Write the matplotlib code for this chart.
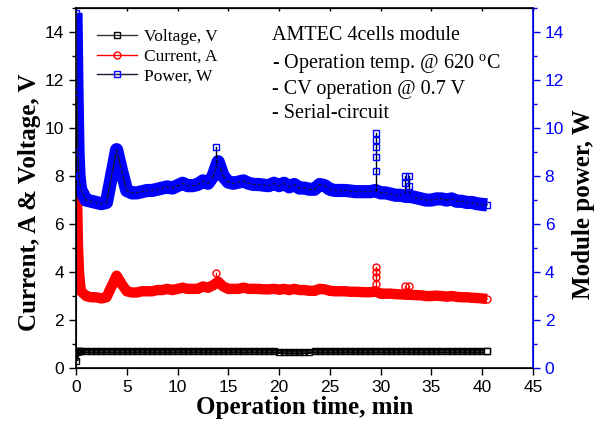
import matplotlib
matplotlib.use("Agg")
import matplotlib.pyplot as plt
from matplotlib.ticker import MultipleLocator

plt.rcParams['mathtext.fontset'] = 'custom'
plt.rcParams['mathtext.rm'] = 'Liberation Serif'

# ---------------- data ----------------
time_min = [0.0, 0.1, 0.2, 0.3, 0.4, 0.5, 1.0, 1.5, 2.0, 2.5, 3.0, 3.5, 4.0, 4.5,
            5.0, 5.5, 6.0, 6.5, 7.0, 7.5, 8.0, 8.5, 9.0, 9.5, 10.0, 10.5, 11.0,
            11.5, 12.0, 12.5, 13.0, 13.5, 14.0, 14.5, 15.0, 15.5, 16.0, 16.5,
            17.0, 17.5, 18.0, 18.5, 19.0, 19.5, 20.0, 20.5, 21.0, 21.5, 22.0,
            22.5, 23.0, 23.5, 24.0, 24.5, 25.0, 25.5, 26.0, 26.5, 27.0, 27.5,
            28.0, 28.5, 29.0, 29.5, 30.0, 30.5, 31.0, 31.5, 32.0, 32.5, 33.0,
            33.5, 34.0, 34.5, 35.0, 35.5, 36.0, 36.5, 37.0, 37.5, 38.0, 38.5,
            39.0, 39.5, 40.0, 40.5]

current_A = [14.0, 7.2, 5.0, 4.0, 3.5, 3.2, 3.0, 2.95, 2.95, 2.9, 2.95, 3.4, 3.85, 3.5,
             3.2, 3.15, 3.15, 3.2, 3.2, 3.2, 3.25, 3.25, 3.3, 3.25, 3.3, 3.35, 3.3,
             3.3, 3.3, 3.4, 3.35, 3.45, 3.6, 3.4, 3.3, 3.3, 3.3, 3.35,
             3.3, 3.3, 3.3, 3.28, 3.28, 3.3, 3.27, 3.3, 3.25, 3.3, 3.25,
             3.25, 3.22, 3.22, 3.3, 3.28, 3.22, 3.2, 3.2, 3.2, 3.18, 3.18,
             3.17, 3.16, 3.16, 3.2, 3.1, 3.1, 3.1, 3.08, 3.07, 3.06, 3.05,
             3.04, 3.03, 3.0, 3.0, 3.02, 3.0, 2.98, 3.0, 2.97, 2.95, 2.95,
             2.93, 2.92, 2.9, 2.88]

power_W = [14.8, 11.5, 9.0, 8.0, 7.6, 7.4, 7.0, 6.95, 6.9, 6.85, 6.9, 8.0, 9.1, 8.2,
           7.4, 7.3, 7.3, 7.35, 7.4, 7.4, 7.45, 7.5, 7.55, 7.5, 7.6, 7.7, 7.6,
           7.6, 7.65, 7.8, 7.7, 8.0, 8.6, 8.0, 7.75, 7.7, 7.75, 7.8,
           7.7, 7.65, 7.65, 7.62, 7.6, 7.7, 7.6, 7.7, 7.55, 7.65, 7.5,
           7.5, 7.45, 7.45, 7.65, 7.6, 7.45, 7.4, 7.4, 7.4, 7.38, 7.35,
           7.35, 7.35, 7.35, 7.4, 7.3, 7.3, 7.25, 7.2, 7.2, 7.15, 7.15,
           7.1, 7.05, 7.0, 7.0, 7.05, 7.05, 7.0, 7.05, 6.95, 6.95, 6.9,
           6.9, 6.85, 6.82, 6.8]

voltage_V = [0.3, 0.68, 0.7, 0.7, 0.7, 0.7, 0.7, 0.7, 0.7, 0.7, 0.7, 0.7, 0.7, 0.7,
             0.7, 0.7, 0.7, 0.7, 0.7, 0.7, 0.7, 0.7, 0.7, 0.7, 0.7, 0.7, 0.7,
             0.7, 0.7, 0.7, 0.7, 0.7, 0.7, 0.7, 0.7, 0.7, 0.7, 0.7,
             0.7, 0.7, 0.7, 0.7, 0.7, 0.7, 0.69, 0.67, 0.66, 0.66, 0.66,
             0.67, 0.69, 0.7, 0.7, 0.7, 0.7, 0.7, 0.7, 0.7, 0.7, 0.7,
             0.7, 0.7, 0.7, 0.7, 0.7, 0.7, 0.7, 0.7, 0.7, 0.7, 0.7,
             0.7, 0.7, 0.7, 0.7, 0.7, 0.7, 0.7, 0.7, 0.7, 0.7, 0.7,
             0.7, 0.7, 0.7, 0.7]

# spikes / outliers (groups separated by NaN)
nan = float('nan')
power_spike_t = [13.8, 13.8, 13.8, nan, 29.6, 29.6, 29.6, 29.6, 29.6, 29.6, nan,
                 32.4, 32.4, 32.4, nan, 32.8, 32.8, 32.8]
power_spike_v = [8.4, 8.6, 9.2, nan, 7.4, 8.2, 8.8, 9.2, 9.5, 9.8, nan,
                 7.3, 7.7, 8.0, nan, 7.3, 7.6, 8.0]
current_spike_t = [13.8, 13.8, nan, 29.6, 29.6, 29.6, 29.6, 29.6, nan,
                   32.4, 32.4, nan, 32.8, 32.8]
current_spike_v = [3.6, 3.97, nan, 3.2, 3.5, 3.8, 4.0, 4.22, nan,
                   3.1, 3.4, nan, 3.1, 3.4]

# ---------------- figure ----------------
fig = plt.figure(figsize=(5.96, 4.26), dpi=100)
ax = fig.add_axes([0.1275, 0.136, 0.7665, 0.845])
ax2 = ax.twinx()

blue = '#0000ff'
red = '#ff0000'

# bands (thick lines underneath the markers)
ax.plot(time_min, voltage_V, color='black', lw=3.5, solid_capstyle='butt', zorder=2)
ax.plot(time_min, current_A, color=red, lw=7.5, solid_capstyle='butt', zorder=2)
ax2.plot(time_min, power_W, color=blue, lw=9.5, solid_capstyle='butt', zorder=2)

# markers
lv, = ax.plot(time_min, voltage_V, color='#333333', lw=1, marker='s', ms=4,
              mfc='none', mec='black', mew=1, zorder=3, label='Voltage, V')
ax.plot([40.5], [0.7], ls='none', marker='s', ms=4, mfc='white', mec='black',
        mew=1, zorder=4)
lc, = ax.plot(time_min, current_A, color=red, lw=1, marker='o', ms=5,
              mfc='none', mec=red, mew=1, zorder=3, label='Current, A')
ax.plot(current_spike_t, current_spike_v, color=red, lw=1, marker='o', ms=5,
        mfc='none', mec=red, mew=1, zorder=3)
lp, = ax2.plot(time_min, power_W, color='#1a1a3a', lw=1, marker='s', ms=5,
               mfc='none', mec=blue, mew=1, zorder=3, label='Power, W')
ax2.plot(power_spike_t, power_spike_v, color='black', lw=1, marker='s', ms=4.5,
         mfc='none', mec=blue, mew=1, zorder=3)

ax.set_xlim(0, 45)
ax.set_ylim(0, 15)
ax2.set_ylim(0, 15)

ax.xaxis.set_major_locator(MultipleLocator(5))
ax.yaxis.set_major_locator(MultipleLocator(2))
ax.yaxis.set_minor_locator(MultipleLocator(1))
ax2.yaxis.set_major_locator(MultipleLocator(2))
ax2.yaxis.set_minor_locator(MultipleLocator(1))

ax.tick_params(axis='x', which='major', direction='out', length=5, width=1,
               top=False, labelsize=12.5)
ax.tick_params(axis='y', which='major', direction='out', length=5, width=1, labelsize=12.5)
ax.tick_params(axis='y', which='minor', direction='out', length=3, width=1)
ax2.tick_params(axis='y', which='major', direction='out', length=5, width=1,
                colors=blue, labelsize=12.5)
ax2.tick_params(axis='y', which='minor', direction='out', length=3, width=1, colors=blue)

for lab in ax.get_xticklabels() + ax.get_yticklabels() + ax2.get_yticklabels():
    lab.set_fontfamily('Liberation Sans')

# top small inward ticks
secx = ax.secondary_xaxis('top')
secx.xaxis.set_major_locator(MultipleLocator(5))
secx.tick_params(direction='in', length=2, width=1, labeltop=False)

ax2.spines['right'].set_color(blue)
ax2.spines['right'].set_linewidth(1.2)
for s in ['left', 'bottom', 'top']:
    ax.spines[s].set_linewidth(1.2)

labfont = dict(family='Liberation Serif', weight='bold', size=18)
ax.set_xlabel('Operation time, min', **labfont, labelpad=1)
ax.set_ylabel('Current, A & Voltage, V', **labfont, labelpad=3)
ax2.set_ylabel('Module power, W', **labfont, labelpad=6)
ax.yaxis.label.set_y(0.46)
ax2.yaxis.label.set_y(0.455)

leg = ax.legend(handles=[lv, lc, lp], loc='upper left', bbox_to_anchor=(0.012, 0.985),
                frameon=False, prop={'family': 'Liberation Serif', 'size': 12.5},
                handlelength=2.3, handletextpad=0.4, labelspacing=0.2)

txtfont = dict(family='Liberation Serif', size=14.5, transform=ax.transAxes, va='baseline')
ax.text(0.43, 0.91, 'AMTEC 4cells module', **txtfont)
ax.text(0.43, 0.83, '- Operation temp. @ 620 $^{\\mathrm{o}}$C', **txtfont)
ax.text(0.43, 0.76, '- CV operation @ 0.7 V', **txtfont)
ax.text(0.43, 0.695, '- Serial-circuit', **txtfont)

fig.savefig('out.png', dpi=100)
